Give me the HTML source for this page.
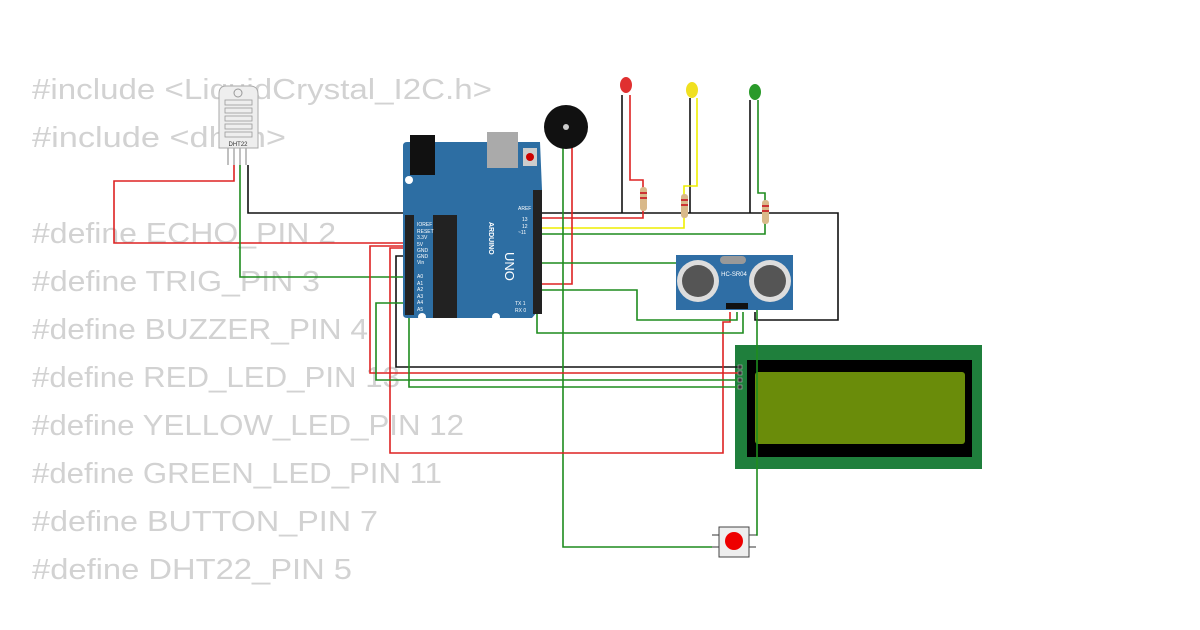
<!DOCTYPE html>
<html><head><meta charset="utf-8"><style>
html,body{margin:0;padding:0;background:#fff;width:1200px;height:630px;overflow:hidden}
svg text{font-family:"Liberation Sans",sans-serif}
</style></head><body>
<svg width="1200" height="630" viewBox="0 0 1200 630" xmlns="http://www.w3.org/2000/svg">
<g fill="#d2d2d2" font-size="29">
<text x="32" y="99" textLength="460" lengthAdjust="spacingAndGlyphs">#include &lt;LiquidCrystal_I2C.h&gt;</text>
<text x="32" y="147" textLength="254" lengthAdjust="spacingAndGlyphs">#include &lt;dht.h&gt;</text>
<text x="32" y="243" textLength="304" lengthAdjust="spacingAndGlyphs">#define ECHO_PIN 2</text>
<text x="32" y="291" textLength="288" lengthAdjust="spacingAndGlyphs">#define TRIG_PIN 3</text>
<text x="32" y="339" textLength="336" lengthAdjust="spacingAndGlyphs">#define BUZZER_PIN 4</text>
<text x="32" y="387" textLength="368" lengthAdjust="spacingAndGlyphs">#define RED_LED_PIN 13</text>
<text x="32" y="435" textLength="432" lengthAdjust="spacingAndGlyphs">#define YELLOW_LED_PIN 12</text>
<text x="32" y="483" textLength="410" lengthAdjust="spacingAndGlyphs">#define GREEN_LED_PIN 11</text>
<text x="32" y="531" textLength="346" lengthAdjust="spacingAndGlyphs">#define BUTTON_PIN 7</text>
<text x="32" y="579" textLength="320" lengthAdjust="spacingAndGlyphs">#define DHT22_PIN 5</text>
</g>

<!-- LCD -->
<rect x="735" y="345" width="247" height="124" fill="#1f7f3c"/>
<rect x="747" y="360" width="225" height="97" fill="#000"/>
<rect x="755" y="372" width="210" height="72" rx="3" fill="#6a8c0a"/>

<!-- wires -->
<g fill="none" stroke-width="1.6">
<polyline points="248,165 248,213 838,213 838,320 755,320 755,312" stroke="#111"/>
<polyline points="622,95 622,213" stroke="#111"/>
<polyline points="690,98 690,213" stroke="#111"/>
<polyline points="750,100 750,213" stroke="#111"/>
<polyline points="412,256 396,256 396,367 740,367" stroke="#111"/>
<polyline points="630,95 630,180 643,180 643,218 540,218" stroke="#d22"/>
<polyline points="697,98 697,186 684,186 684,228 540,228" stroke="#ee0"/>
<polyline points="758,100 758,193 765,193 765,234 540,234" stroke="#1e8c1e"/>
<polyline points="572,145 572,284 540,284" stroke="#d22"/>
<polyline points="563,148 563,547 718,547" stroke="#1e8c1e"/>
<polyline points="234,165 234,181 114,181 114,243 412,243" stroke="#d22"/>
<polyline points="240,165 240,277 412,277" stroke="#1e8c1e"/>
<polyline points="412,246 370,246 370,373 740,373" stroke="#d22"/>
<polyline points="412,248 390,248 390,453 723,453 723,322 730,322 730,312" stroke="#d22"/>
<polyline points="412,303 376,303 376,380 740,380" stroke="#1e8c1e"/>
<polyline points="412,310 409,310 409,387 740,387" stroke="#1e8c1e"/>
<polyline points="540,263 757,263 757,535 750,535" stroke="#1e8c1e"/>
<polyline points="540,290 637,290 637,320 737,320 737,312" stroke="#1e8c1e"/>
<polyline points="540,298 537,298 537,333 743,333 743,312" stroke="#1e8c1e"/>
</g>

<g fill="#333" stroke="#ccc" stroke-width="0.5">
<rect x="738" y="365" width="4" height="4"/><rect x="738" y="371" width="4" height="4"/>
<rect x="738" y="378" width="4" height="4"/><rect x="738" y="385" width="4" height="4"/>
</g>

<!-- Arduino -->
<path d="M407,142 L540,142 L542,190 L542,306 L532,318 L407,318 Q403,318 403,314 L403,146 Q403,142 407,142Z" fill="#2d6ea3"/>
<rect x="410" y="135" width="25" height="40" fill="#111"/>
<rect x="487" y="132" width="31" height="36" fill="#aaa"/>
<rect x="523" y="148" width="14" height="18" fill="#ccc"/>
<circle cx="530" cy="157" r="4" fill="#c00"/>
<circle cx="409" cy="180" r="4" fill="#fff"/>
<circle cx="422" cy="317" r="4" fill="#fff"/>
<circle cx="496" cy="317" r="4" fill="#fff"/>
<rect x="533" y="190" width="9" height="124" fill="#222"/>
<rect x="405" y="215" width="9" height="100" fill="#222"/>
<rect x="433" y="215" width="24" height="103" fill="#222"/>
<g fill="#fff" font-size="5">
<text x="417" y="226">IOREF</text><text x="417" y="233">RESET</text><text x="417" y="239">3.3V</text>
<text x="417" y="246">5V</text><text x="417" y="252">GND</text><text x="417" y="258">GND</text><text x="417" y="264">Vin</text>
<text x="417" y="278">A0</text><text x="417" y="285">A1</text><text x="417" y="291">A2</text>
<text x="417" y="298">A3</text><text x="417" y="304">A4</text><text x="417" y="311">A5</text>
<text x="518" y="210">AREF</text><text x="522" y="221">13</text><text x="522" y="228">12</text><text x="518" y="234">~11</text>
<text x="515" y="312">RX 0</text><text x="515" y="305">TX 1</text>
</g>
<text x="0" y="0" fill="#fff" font-size="13" transform="translate(505,252) rotate(90)">UNO</text>
<text x="0" y="0" fill="#fff" font-size="7" font-weight="bold" transform="translate(489,222) rotate(90)">ARDUINO</text>

<circle cx="566" cy="127" r="22" fill="#111"/>
<circle cx="566" cy="127" r="3" fill="#ccc"/>

<ellipse cx="626" cy="85" rx="6" ry="8" fill="#e03030"/>
<ellipse cx="692" cy="90" rx="6" ry="8" fill="#f0e020"/>
<ellipse cx="755" cy="92" rx="6" ry="8" fill="#2a9a2a"/>
<g fill="#d9b98a">
<rect x="640" y="187" width="7" height="24" rx="3"/>
<rect x="681" y="194" width="7" height="24" rx="3"/>
<rect x="762" y="200" width="7" height="24" rx="3"/>
</g>
<g fill="#c33">
<rect x="640" y="192" width="7" height="2"/><rect x="640" y="197" width="7" height="2"/>
<rect x="681" y="199" width="7" height="2"/><rect x="681" y="204" width="7" height="2"/>
<rect x="762" y="205" width="7" height="2"/><rect x="762" y="210" width="7" height="2"/>
</g>

<rect x="676" y="255" width="117" height="55" fill="#2f6ea5"/>
<rect x="720" y="256" width="26" height="8" rx="4" fill="#999"/>
<circle cx="698" cy="281" r="21" fill="#ddd"/><circle cx="698" cy="281" r="16" fill="#555"/>
<circle cx="770" cy="281" r="21" fill="#ddd"/><circle cx="770" cy="281" r="16" fill="#555"/>
<text x="734" y="276" fill="#fff" font-size="6" text-anchor="middle">HC-SR04</text>
<rect x="726" y="303" width="22" height="6" fill="#111"/>

<path d="M219,94 Q219,86 226,86 L250,86 Q258,86 258,94 L258,148 L219,148Z" fill="#eee" stroke="#aaa"/>
<g stroke="#999" fill="none" stroke-width="0.8">
<rect x="225" y="100" width="27" height="5"/><rect x="225" y="108" width="27" height="5"/>
<rect x="225" y="116" width="27" height="5"/><rect x="225" y="124" width="27" height="5"/>
<rect x="225" y="132" width="27" height="5"/>
</g>
<circle cx="238" cy="93" r="4" fill="none" stroke="#999"/>
<text x="238" y="146" fill="#333" font-size="6" text-anchor="middle">DHT22</text>
<g stroke="#aaa" stroke-width="1.5"><line x1="228" y1="148" x2="228" y2="165"/><line x1="234" y1="148" x2="234" y2="165"/><line x1="240" y1="148" x2="240" y2="165"/><line x1="246" y1="148" x2="246" y2="165"/></g>

<g stroke="#999" stroke-width="2"><line x1="712" y1="535" x2="720" y2="535"/><line x1="712" y1="547" x2="720" y2="547"/><line x1="748" y1="535" x2="756" y2="535"/><line x1="748" y1="547" x2="756" y2="547"/></g>
<rect x="719" y="527" width="30" height="30" fill="#eee" stroke="#444"/>
<circle cx="734" cy="541" r="9" fill="#e00"/>
</svg>
</body></html>
